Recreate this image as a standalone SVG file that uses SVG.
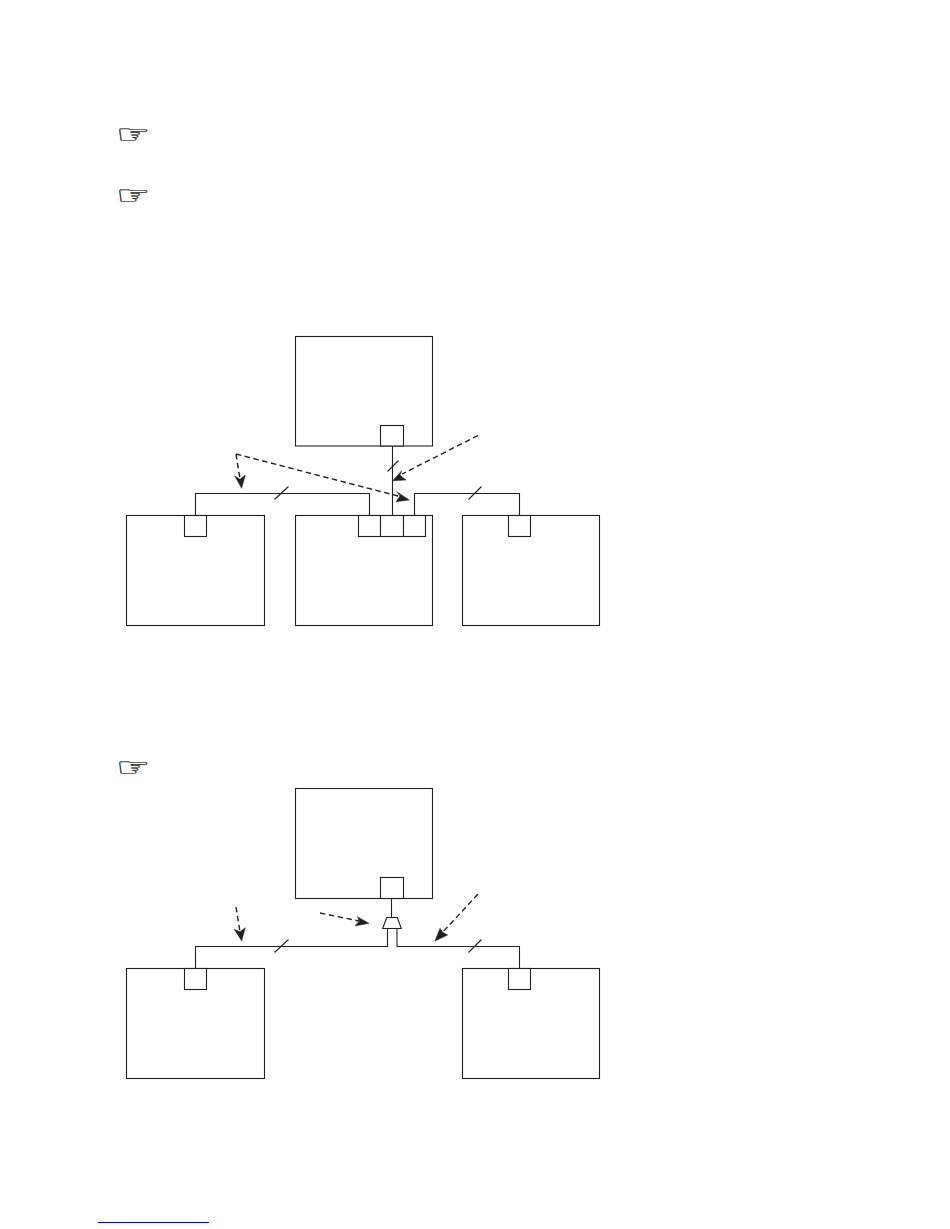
<svg xmlns="http://www.w3.org/2000/svg" width="950" height="1229" viewBox="0 0 950 1229">
<style>
.n{fill:#fff;stroke:#231f20;stroke-width:1.1}
.l{fill:none;stroke:#231f20;stroke-width:1.1}
.d{fill:none;stroke:#231f20;stroke-width:1.4;stroke-dasharray:5.500 3.500}
.a{fill:#231f20;stroke:#231f20;stroke-width:.5}
.h{font-family:"DejaVu Sans",sans-serif;font-size:32px;fill:#231f20;stroke:#231f20;stroke-width:.3}
</style>
<rect width="950" height="1229" fill="#fff"/>
<text id="hand1" class="h" transform="translate(116 143) scale(1.2 .8)">☞</text>
<text id="hand2" class="h" transform="translate(116 204) scale(1.2 .8)">☞</text>
<text id="hand3" class="h" transform="translate(116 776) scale(1.2 .8)">☞</text>
<g id="connectors">
<path class="l" d="M392.500 446V516M195.500 516V493.500H369.500V516M414.500 516V493.500H519.500V516"/>
<path class="l" d="M274.500 499.500L288.500 486.500M387.500 471.500L398.500 460.500M468.500 499.500L481.500 486.500"/>
<path class="d" d="M478 435.500L402 474"/>
<path class="d" d="M236 454L240 479"/>
<path class="d" d="M236 454L398 496"/>
<path class="a" d="M392.700 480.700L401.700 470.700L400 475L406 480Z"/>
<path class="a" d="M241.700 488.300L234.700 476L240 479.300L245.300 475Z"/>
<path class="a" d="M409.300 500L396.700 491.700L400 496L396 501.700Z"/>
<path class="l" d="M391.500 898V917.500M387.500 928.500V946.500H195.500V968M397 928.500V946.500H519.500V968"/>
<path class="l" d="M274.500 952.500L288.500 939.500M468.500 952.500L481.500 939.500"/>
<path class="d" d="M236 907L240 932"/>
<path class="d" d="M320 913L359 921"/>
<path class="d" d="M478 894L442.700 932.300"/>
<path class="a" d="M241.700 941L234.300 929.300L240 931.700L245.300 927.700Z"/>
<path class="a" d="M369 923.300L357.300 916.700L359.300 921L355 926Z"/>
<path class="a" d="M435 941L440 928.300L442.700 932.300L447.700 935Z"/>
</g>
<g id="node-top1"><rect class="n" x="295.500" y="336.500" width="137" height="109.500"/><rect class="n" x="380.500" y="425.500" width="23" height="20.500"/></g>
<g id="node-left1"><rect class="n" x="126.500" y="515.500" width="138" height="110"/><rect class="n" x="184.500" y="515.500" width="22" height="21"/></g>
<g id="node-mid1"><rect class="n" x="295.500" y="515.500" width="137" height="110"/><rect class="n" x="358.500" y="515.500" width="22" height="21"/><rect class="n" x="380.500" y="515.500" width="23" height="21"/><rect class="n" x="403.500" y="515.500" width="22" height="21"/></g>
<g id="node-right1"><rect class="n" x="462.500" y="515.500" width="137" height="110"/><rect class="n" x="508.500" y="515.500" width="22" height="21"/></g>
<g id="node-top2"><rect class="n" x="295.500" y="788.500" width="137" height="110"/><rect class="n" x="380.500" y="877.500" width="23" height="21"/></g>
<g id="node-mux"><path class="n" d="M386.700 917.500H397.300L401.300 928.500H382.700Z"/></g>
<g id="node-left2"><rect class="n" x="126.500" y="968.500" width="138" height="110"/><rect class="n" x="184.500" y="968.500" width="22" height="21"/></g>
<g id="node-right2"><rect class="n" x="462.500" y="968.500" width="137" height="110"/><rect class="n" x="508.500" y="968.500" width="22" height="21"/></g>
<path d="M98 1222.500H209" fill="none" stroke="#0000ff" stroke-width="1"/>
</svg>
